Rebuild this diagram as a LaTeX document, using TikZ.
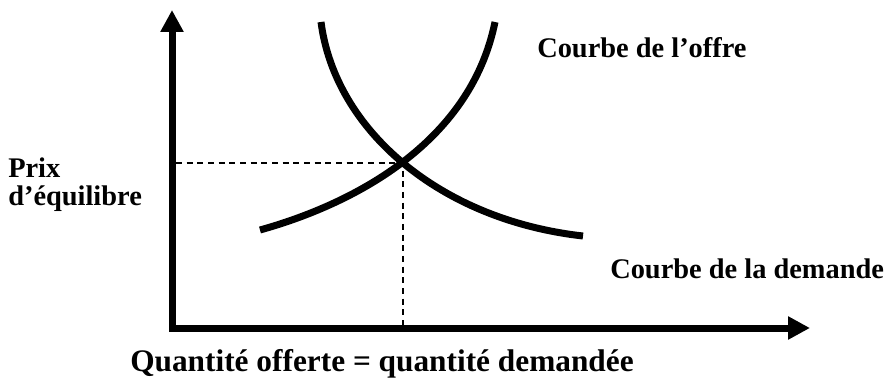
\documentclass[tikz,border=0pt]{standalone}
\usepackage{fontspec}
\setmainfont{Liberation Serif}
\usetikzlibrary{arrows.meta}
\tikzset{
  axisline/.style={line width=5.25pt, line join=miter, {Triangle[length=16.5pt,width=16.5pt]}-{Triangle[length=16.5pt,width=16.5pt]}},
  curveline/.style={line width=5.25pt},
  guide/.style={line width=0.9pt, dash pattern=on 4.5pt off 3.5pt},
  lbl/.style={font=\fontsize{21.3}{21.5}\selectfont\bfseries, inner sep=0pt, anchor=base west, align=left}
}
\begin{document}
\begin{tikzpicture}[x=0.75pt,y=-0.75pt]
\useasboundingbox (0,0) rectangle (886,381);
% axes
\coordinate (ytop) at (172,10);
\coordinate (O) at (172,328);
\coordinate (xend) at (810,328);
\draw[axisline] (ytop) -- (O) -- (xend);
% equilibrium
\coordinate (E) at (403,163);
\coordinate (Ey) at (176,163);
\coordinate (Ex) at (403,325);
\draw[guide] (Ey) -- (E) -- (Ex);
% demand curve
\coordinate (d0) at (321,22);
\coordinate (d1) at (583,236);
\draw[curveline] (d0) .. controls (335,130) and (440,220) .. (d1);
% supply curve
\coordinate (s0) at (260,230);
\coordinate (s1) at (495,22);
\draw[curveline] (s0) .. controls (350,205) and (470,145) .. (s1);
% labels
\node[lbl] (offre) at (537,58) {Courbe de l’offre};
\node[lbl] (demande) at (610,278) {Courbe de la demande};
\node[lbl] (prix) at (8,206) {Prix\\d’équilibre};
\node[lbl, font=\fontsize{23.5}{24}\selectfont\bfseries] (quant) at (130,371) {Quantité offerte = quantité demandée};
\end{tikzpicture}
\end{document}
